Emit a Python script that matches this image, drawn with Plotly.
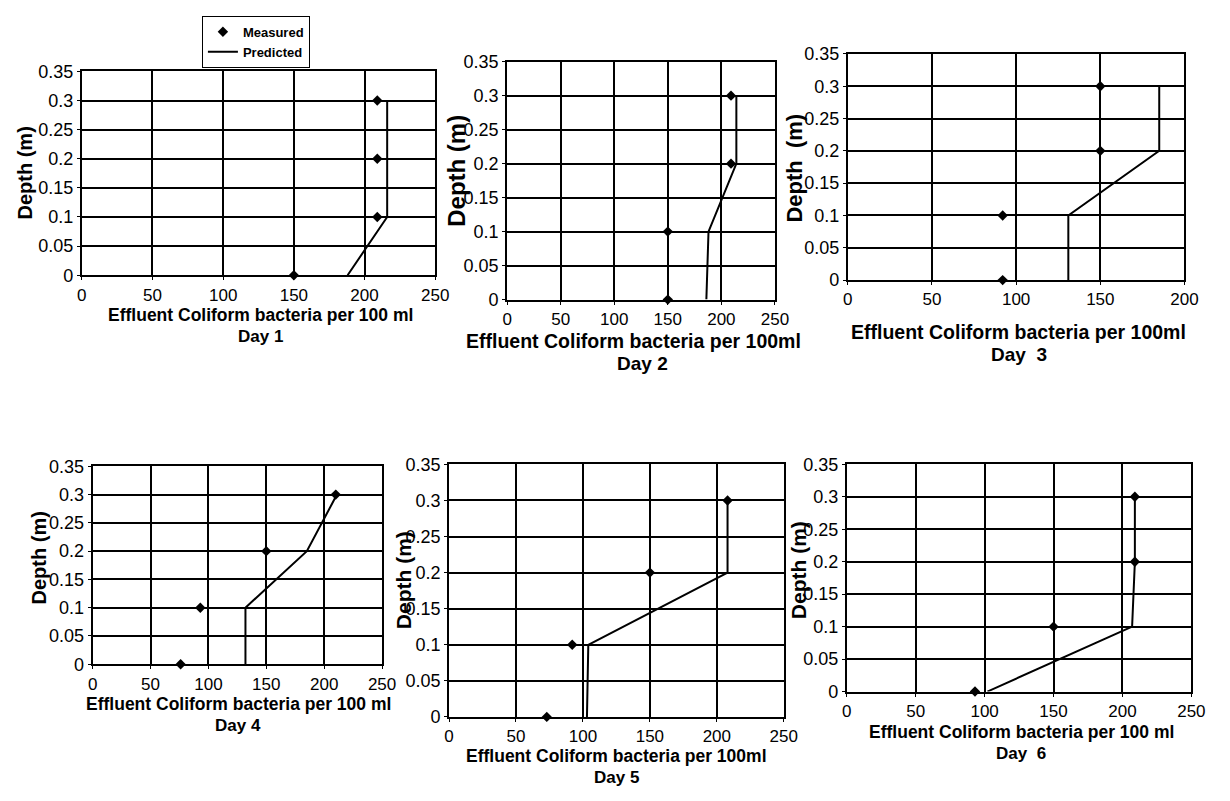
import plotly.graph_objects as go

W, H = 1230, 801
FONT = "Liberation Sans, Arial, sans-serif"

# ---- data ----
depth = [0, 0.1, 0.2, 0.3]
day_names = ["Day 1", "Day 2", "Day  3", "Day 4", "Day 5", "Day  6"]

meas_day1 = [150, 209, 209, 209]
meas_day2 = [150, 150, 209, 209]
meas_day3 = [92, 92, 150, 150]
meas_day4 = [76, 93, 150, 210]
meas_day5 = [73, 92, 150, 208]
meas_day6 = [93, 150, 209, 209]

pred_day1 = [188, 216, 216, 216]
pred_day2 = [186, 188, 214, 214]
pred_day3 = [131, 131, 185, 185]
pred_day4 = [132, 132, 185, 211]
pred_day5 = [103, 104, 208, 208]
pred_day6 = [102, 207, 209, 209]

x_max = [250, 250, 200, 250, 250, 250]
x_titles = ["Effluent Coliform bacteria per 100 ml",
            "Effluent Coliform bacteria per 100ml",
            "Effluent Coliform bacteria per 100ml",
            "Effluent Coliform bacteria per 100 ml",
            "Effluent Coliform bacteria per 100ml",
            "Effluent Coliform bacteria per 100 ml"]
y_titles = ["Depth (m)", "Depth (m)", "Depth  (m)", "Depth (m)", "Depth (m)", "Depth (m)"]

measured = [meas_day1, meas_day2, meas_day3, meas_day4, meas_day5, meas_day6]
predicted = [pred_day1, pred_day2, pred_day3, pred_day4, pred_day5, pred_day6]

# ---- layout geometry (pixels) ----
# plot area: left, right, top, bottom
boxes = [(78, 437, 63, 272), (510, 782, 53, 297), (856, 1198, 45, 277),
         (89, 383, 468, 671), (451, 791, 466, 725), (855, 1205, 466, 699)]
xtitle_pos = [(260, 313, 17.5), (638, 339, 19.5), (1029, 330, 19.5),
              (237, 712, 17.5), (621, 765, 17.5), (1032, 741, 17.5)]
day_pos = [(260, 335, 17), (647, 363, 19), (1030, 353, 19),
           (237, 734, 17), (621, 787, 17), (1032, 763, 17)]
ytitle_pos = [(20, 167, 20), (459, 165, 24), (802, 162, 22),
              (34, 562, 20), (405, 585, 21), (806, 575, 21)]

fig = go.Figure()
annotations = []
for i in range(6):
    n = "" if i == 0 else str(i + 1)
    xa, ya = "x" + n, "y" + n
    fig.add_trace(go.Scatter(
        x=predicted[i], y=depth, mode="lines", name="Predicted",
        line=dict(color="black", width=2), xaxis=xa, yaxis=ya,
        showlegend=(i == 0), legendrank=2))
    fig.add_trace(go.Scatter(
        x=measured[i], y=depth, mode="markers", name="Measured",
        marker=dict(symbol="diamond", size=8, color="black"),
        xaxis=xa, yaxis=ya, showlegend=(i == 0), legendrank=1, cliponaxis=False))
    l, r, t, b = boxes[i]
    common = dict(showgrid=True, gridcolor="black", gridwidth=2,
                  showline=True, linecolor="black", linewidth=2, mirror=True,
                  ticks="outside", ticklen=3, tickcolor="black", tickwidth=1,
                  zeroline=False, fixedrange=True)
    fig.update_layout({
        "xaxis" + n: dict(domain=[l / W, r / W], anchor=ya, range=[0, x_max[i]],
                          dtick=50, tick0=0,
                          tickfont=dict(family=FONT, size=17, color="black"), **common),
        "yaxis" + n: dict(domain=[1 - b / H, 1 - t / H], anchor=xa, range=[0, 0.35],
                          tickvals=[0, 0.05, 0.1, 0.15, 0.2, 0.25, 0.3, 0.35],
                          ticktext=["0", "0.05", "0.1", "0.15", "0.2", "0.25", "0.3", "0.35"],
                          tickfont=dict(family=FONT, size=18, color="black"), **common),
    })
    tx, ty, ts = xtitle_pos[i]
    annotations.append(dict(text="<b>" + x_titles[i] + "</b>", x=tx / W, y=1 - ty / H,
                            xref="paper", yref="paper", showarrow=False,
                            xanchor="center", yanchor="middle",
                            font=dict(family=FONT, size=ts, color="black")))
    dx, dy, ds = day_pos[i]
    annotations.append(dict(text="<b>" + day_names[i] + "</b>", x=dx / W, y=1 - dy / H,
                            xref="paper", yref="paper", showarrow=False,
                            xanchor="center", yanchor="middle",
                            font=dict(family=FONT, size=ds, color="black")))
    yx, yy, ys = ytitle_pos[i]
    annotations.append(dict(text="<b>" + y_titles[i] + "</b>", x=yx / W, y=1 - yy / H,
                            xref="paper", yref="paper", showarrow=False, textangle=-90,
                            xanchor="center", yanchor="middle",
                            font=dict(family=FONT, size=ys, color="black")))

fig.update_layout(
    width=W, height=H, margin=dict(l=0, r=0, t=0, b=0),
    paper_bgcolor="white", plot_bgcolor="white",
    annotations=annotations,
    legend=dict(x=200 / W, y=1 - 6 / H, xanchor="left", yanchor="top",
                bordercolor="black", borderwidth=1, bgcolor="white",
                font=dict(family=FONT, size=13, color="black", weight="bold"),
                tracegroupgap=0, itemwidth=30),
    font=dict(family=FONT, color="black"),
)

fig.write_html("out.html", config={"displayModeBar": False},
               post_script="document.body.style.margin='0';")
